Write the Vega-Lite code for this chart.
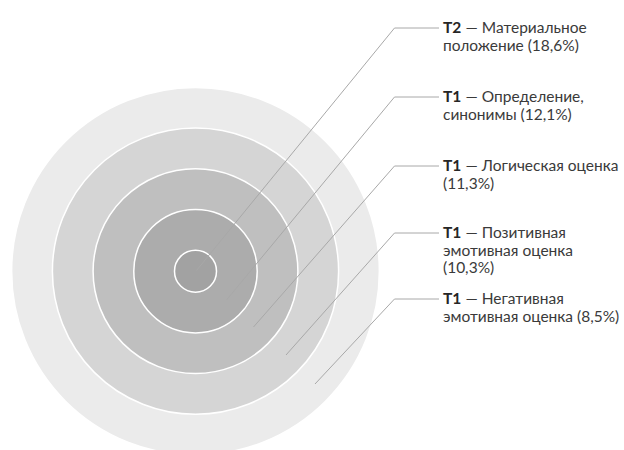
{
  "$schema": "https://vega.github.io/schema/vega-lite/v6.json",
  "width": 624,
  "height": 450,
  "autosize": {"type": "none"},
  "padding": 0,
  "background": "white",
  "config": {"view": {"stroke": null}},
  "datasets": {
    "rings": [
      {"level": 5},
      {"level": 4},
      {"level": 3},
      {"level": 2},
      {"level": 1}
    ],
    "leaders": [
      {"id": "a", "ord": 1, "px": 196.5, "py": 270.5},
      {"id": "a", "ord": 2, "px": 394.5, "py": 28},
      {"id": "a", "ord": 3, "px": 439, "py": 28},
      {"id": "b", "ord": 1, "px": 226.5, "py": 300},
      {"id": "b", "ord": 2, "px": 394.5, "py": 97},
      {"id": "b", "ord": 3, "px": 439, "py": 97},
      {"id": "c", "ord": 1, "px": 253.5, "py": 327},
      {"id": "c", "ord": 2, "px": 394.5, "py": 166},
      {"id": "c", "ord": 3, "px": 439, "py": 166},
      {"id": "d", "ord": 1, "px": 286, "py": 355},
      {"id": "d", "ord": 2, "px": 394.5, "py": 233},
      {"id": "d", "ord": 3, "px": 439, "py": 233},
      {"id": "e", "ord": 1, "px": 315, "py": 384},
      {"id": "e", "ord": 2, "px": 394.5, "py": 299},
      {"id": "e", "ord": 3, "px": 439, "py": 299}
    ],
    "labels": [
      {"id": "a", "py": 28, "code": "T2\n", "head": "— Материальное\n", "rest": "\nположение (18,6%)"},
      {"id": "b", "py": 97, "code": "T1\n", "head": "— Определение,\n", "rest": "\nсинонимы (12,1%)"},
      {"id": "c", "py": 166, "code": "T1\n", "head": "— Логическая оценка\n", "rest": "\n(11,3%)"},
      {"id": "d", "py": 233, "code": "T1\n\n", "head": "— Позитивная\n\n", "rest": "\nэмотивная оценка\n(10,3%)"},
      {"id": "e", "py": 299, "code": "T1\n", "head": " —  Негативная\n", "rest": "\nэмотивная оценка (8,5%)"}
    ]
  },
  "layer": [
    {
      "data": {"name": "rings"},
      "mark": {"type": "arc", "theta": 0, "theta2": 6.2832, "radius2": 0, "stroke": "white", "strokeWidth": 1.5},
      "encoding": {
        "x": {"datum": 195.5, "type": "quantitative", "scale": {"domain": [0, 624], "nice": false, "zero": false}, "axis": null},
        "y": {"datum": 271.2, "type": "quantitative", "scale": {"domain": [0, 450], "nice": false, "zero": false, "reverse": true}, "axis": null},
        "radius": {"field": "level", "type": "quantitative", "stack": null, "scale": {"type": "linear", "domain": [1, 5], "range": [21, 183.8], "zero": false}},
        "color": {"field": "level", "type": "ordinal", "scale": {"domain": [1, 2, 3, 4, 5], "range": ["#a2a2a2", "#acacac", "#bfbfbf", "#d5d5d5", "#ebebeb"]}, "legend": null}
      }
    },
    {
      "data": {"name": "leaders"},
      "mark": {"type": "line", "color": "#a8a8a8", "strokeWidth": 1},
      "encoding": {
        "x": {"field": "px", "type": "quantitative", "scale": {"domain": [0, 624], "nice": false, "zero": false}, "axis": null},
        "y": {"field": "py", "type": "quantitative", "scale": {"domain": [0, 450], "nice": false, "zero": false, "reverse": true}, "axis": null},
        "detail": {"field": "id", "type": "nominal"},
        "order": {"field": "ord", "type": "quantitative"}
      }
    },
    {
      "data": {"name": "labels"},
      "mark": {"type": "text", "align": "left", "baseline": "middle", "font": "Lato", "fontSize": 15.5, "fontWeight": "bold", "lineBreak": "\n", "lineHeight": 17.5, "color": "#262626"},
      "encoding": {
        "x": {"datum": 443, "type": "quantitative", "scale": {"domain": [0, 624], "nice": false, "zero": false}, "axis": null},
        "y": {"field": "py", "type": "quantitative", "scale": {"domain": [0, 450], "nice": false, "zero": false, "reverse": true}, "axis": null},
        "text": {"field": "code", "type": "nominal"}
      }
    },
    {
      "data": {"name": "labels"},
      "mark": {"type": "text", "align": "left", "baseline": "middle", "font": "Lato", "fontSize": 15.5, "dx": 22.5, "lineBreak": "\n", "lineHeight": 17.5, "color": "#3a3a3a"},
      "encoding": {
        "x": {"datum": 443, "type": "quantitative", "scale": {"domain": [0, 624], "nice": false, "zero": false}, "axis": null},
        "y": {"field": "py", "type": "quantitative", "scale": {"domain": [0, 450], "nice": false, "zero": false, "reverse": true}, "axis": null},
        "text": {"field": "head", "type": "nominal"}
      }
    },
    {
      "data": {"name": "labels"},
      "mark": {"type": "text", "align": "left", "baseline": "middle", "font": "Lato", "fontSize": 15.5, "lineBreak": "\n", "lineHeight": 17.5, "color": "#3a3a3a"},
      "encoding": {
        "x": {"datum": 443, "type": "quantitative", "scale": {"domain": [0, 624], "nice": false, "zero": false}, "axis": null},
        "y": {"field": "py", "type": "quantitative", "scale": {"domain": [0, 450], "nice": false, "zero": false, "reverse": true}, "axis": null},
        "text": {"field": "rest", "type": "nominal"}
      }
    }
  ]
}
